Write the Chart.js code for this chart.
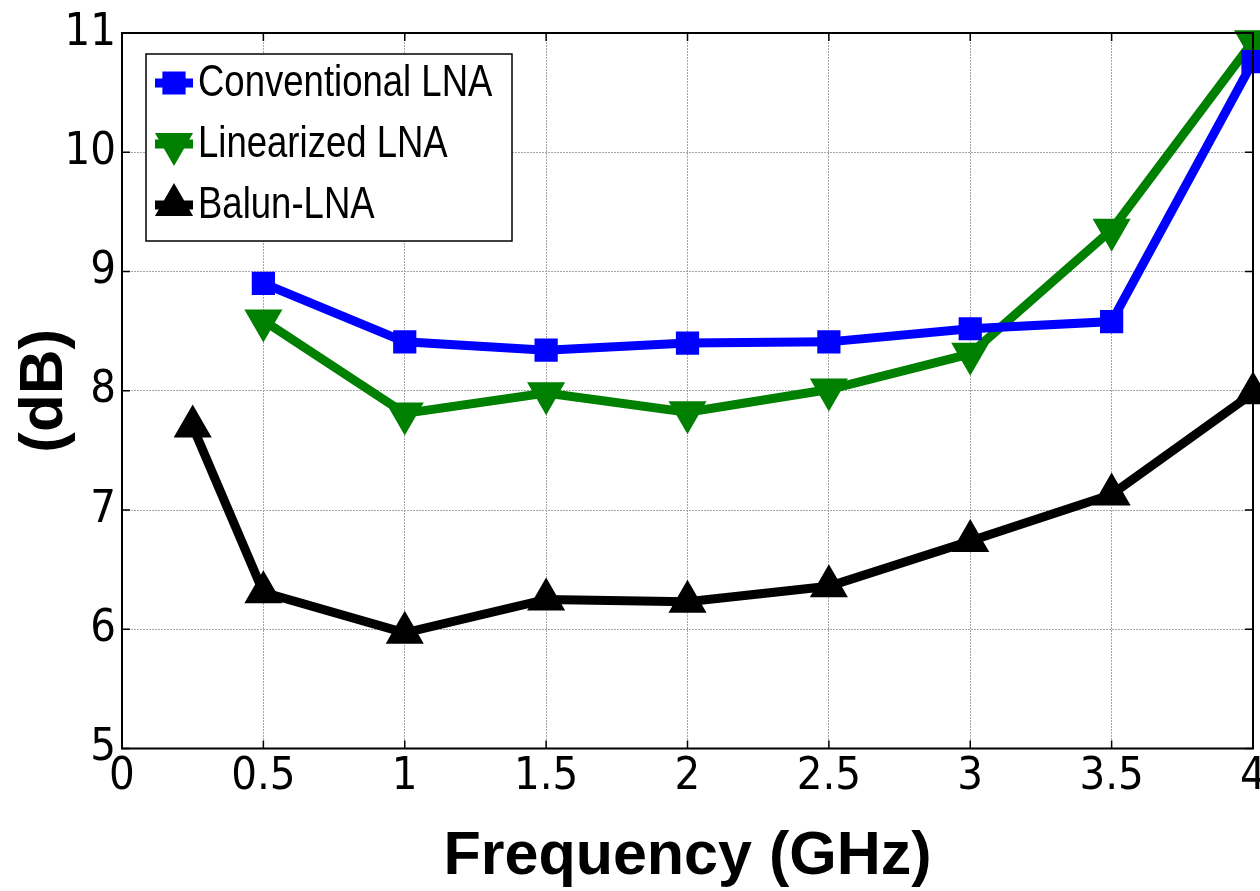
<!DOCTYPE html>
<html>
<head>
<meta charset="utf-8">
<script src="https://cdn.jsdelivr.net/npm/chart.js@4.4.0/dist/chart.umd.min.js"></script>
<style>
  html, body { margin: 0; padding: 0; background: #fff; }
  #wrap { width: 1260px; height: 891px; }
</style>
</head>
<body>
<div id="wrap"><canvas id="chart" width="1260" height="891"></canvas></div>
<script>
// frequency points (GHz)
const freqs = [0.5, 1, 1.5, 2, 2.5, 3, 3.5, 4];
const balunFreqs = [0.25, 0.5, 1, 1.5, 2, 2.5, 3, 3.5, 4];

// noise figure values (dB)
const conventional = [8.9, 8.41, 8.34, 8.4, 8.41, 8.52, 8.58, 10.76];
const linearized = [8.59, 7.81, 7.98, 7.82, 8.01, 8.31, 9.35, 10.93];
const balun = [7.7, 6.31, 5.97, 6.25, 6.23, 6.36, 6.74, 7.13, 7.98];

const xTicks = [0, 0.5, 1, 1.5, 2, 2.5, 3, 3.5, 4];
const yTicks = [5, 6, 7, 8, 9, 10, 11];

const narrow = "'Liberation Sans Narrow', 'Arial Narrow', 'DejaVu Sans Condensed', sans-serif";
const bold = "'Liberation Sans', Arial, sans-serif";

const toXY = (xs, ys) => xs.map((x, i) => ({ x: x, y: ys[i] }));

// box round the axes + inward ticks like matlab
const axesBox = {
  id: 'axesBox',
  afterDraw(chart) {
    const ctx = chart.ctx;
    const a = chart.chartArea;
    const xs = chart.scales.x, ys = chart.scales.y;
    ctx.save();
    ctx.strokeStyle = '#000';
    ctx.lineWidth = 1.5;
    xTicks.forEach(v => {
      const px = xs.getPixelForValue(v);
      ctx.beginPath();
      ctx.moveTo(px, a.bottom); ctx.lineTo(px, a.bottom - 8);
      ctx.moveTo(px, a.top); ctx.lineTo(px, a.top + 8);
      ctx.stroke();
    });
    yTicks.forEach(v => {
      const py = ys.getPixelForValue(v);
      ctx.beginPath();
      ctx.moveTo(a.left, py); ctx.lineTo(a.left + 8, py);
      ctx.moveTo(a.right, py); ctx.lineTo(a.right - 8, py);
      ctx.stroke();
    });
    ctx.lineWidth = 2;
    ctx.strokeRect(a.left, a.top, a.right - a.left, a.bottom - a.top);
    ctx.restore();
  }
};

// legend box drawn inside the plot, top-left
const boxLegend = {
  id: 'boxLegend',
  afterDatasetsDraw(chart) {
    const ctx = chart.ctx;
    const a = chart.chartArea;
    const x0 = a.left + 24, y0 = a.top + 21, w = 366, h = 187;
    ctx.save();
    ctx.fillStyle = '#fff';
    ctx.fillRect(x0, y0, w, h);
    ctx.strokeStyle = '#000';
    ctx.lineWidth = 1.5;
    ctx.strokeRect(x0, y0, w, h);
    chart.data.datasets.forEach((ds, i) => {
      const cy = y0 + 29 + i * 61;
      ctx.strokeStyle = ds.borderColor;
      ctx.lineWidth = ds.borderWidth;
      ctx.beginPath();
      ctx.moveTo(x0 + 9, cy); ctx.lineTo(x0 + 47, cy);
      ctx.stroke();
      ctx.fillStyle = ds.pointBackgroundColor;
      ctx.strokeStyle = ds.borderColor;
      ctx.lineWidth = ds.pointBorderWidth;
      Chart.helpers.drawPoint(ctx, {
        pointStyle: ds.pointStyle,
        rotation: ds.pointRotation || 0,
        radius: ds.pointRadius,
        borderWidth: ds.pointBorderWidth
      }, x0 + 28, cy);
      // squeeze arial horizontally to look like the narrow face
      ctx.save();
      ctx.translate(x0 + 52, cy + 1);
      ctx.scale(0.83, 1);
      ctx.fillStyle = '#000';
      ctx.font = '44px ' + bold;
      ctx.textBaseline = 'middle';
      ctx.fillText(ds.label, 0, 0);
      ctx.restore();
    });
    ctx.restore();
  }
};

new Chart(document.getElementById('chart'), {
  type: 'line',
  data: {
    datasets: [
      {
        label: 'Conventional LNA',
        data: toXY(freqs, conventional),
        borderColor: '#0000ff',
        backgroundColor: '#0000ff',
        pointBackgroundColor: '#0000ff',
        borderWidth: 9,
        pointStyle: 'rect',
        pointRadius: 15,
        pointBorderWidth: 2
      },
      {
        label: 'Linearized LNA',
        data: toXY(freqs, linearized),
        borderColor: '#008000',
        backgroundColor: '#008000',
        pointBackgroundColor: '#008000',
        borderWidth: 9,
        pointStyle: 'triangle',
        pointRotation: 180,
        pointRadius: 20,
        pointBorderWidth: 2
      },
      {
        label: 'Balun-LNA',
        data: toXY(balunFreqs, balun),
        borderColor: '#000000',
        backgroundColor: '#000000',
        pointBackgroundColor: '#000000',
        borderWidth: 9,
        pointStyle: 'triangle',
        pointRadius: 20,
        pointBorderWidth: 2
      }
    ]
  },
  options: {
    responsive: false,
    animation: false,
    clip: false,
    layout: { autoPadding: false, padding: { top: 32, right: 7, left: 0, bottom: 0 } },
    plugins: {
      legend: { display: false },
      tooltip: { enabled: false }
    },
    scales: {
      x: {
        type: 'linear',
        min: 0,
        max: 4,
        afterBuildTicks: (s) => { s.ticks = xTicks.map(v => ({ value: v })); },
        afterFit: (s) => { s.height = 142.5; s.paddingLeft = 0; s.paddingRight = 0; },
        border: { display: false, dash: [2, 1] },
        grid: { color: '#a6a6a6', lineWidth: 1, drawTicks: false },
        ticks: {
          color: '#000',
          font: { family: narrow, size: 45 },
          padding: 2,
          maxRotation: 0,
          autoSkip: false,
          callback: (v) => String(v)
        },
        title: {
          display: true,
          text: 'Frequency (GHz)',
          color: '#000',
          font: { family: bold, size: 61, weight: 'bold', lineHeight: 1 },
          padding: { top: 0, bottom: 3 }
        }
      },
      y: {
        type: 'linear',
        min: 5,
        max: 11,
        afterBuildTicks: (s) => { s.ticks = yTicks.map(v => ({ value: v })); },
        afterFit: (s) => { s.width = 122; },
        border: { display: false, dash: [2, 1] },
        grid: { color: '#a6a6a6', lineWidth: 1, drawTicks: false },
        ticks: {
          color: '#000',
          font: { family: narrow, size: 45 },
          padding: 6,
          callback: (v) => String(v)
        },
        title: {
          display: true,
          text: '(dB)',
          color: '#000',
          font: { family: bold, size: 62, weight: 'bold', lineHeight: 1 },
          padding: { top: 14, bottom: 0 }
        }
      }
    }
  },
  plugins: [axesBox, boxLegend]
});
</script>
</body>
</html>
